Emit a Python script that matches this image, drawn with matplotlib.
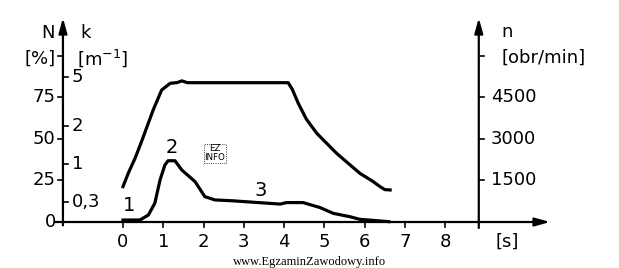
import matplotlib.pyplot as plt

# time axis [s]
x_ticks = [0, 1, 2, 3, 4, 5, 6, 7, 8]

# left axis: N [%] and k [m^-1] (k scale is non-linear, placed by N units)
n_pct_ticks = [0, 25, 50, 75, 100]
n_pct_labels = ['0', '25', '50', '75', '']
k_tick_pos = [12.0, 34.9, 57.8, 87.3]
k_tick_labels = ['0,3', '1', '2', '5']

# right axis: n [obr/min]
rpm_ticks = [1500, 3000, 4500, 6000]
rpm_labels = ['1500', '3000', '4500', '']

# upper curve (read in N units)
t_upper = [0, 0.13, 0.3, 0.46, 0.75, 0.96, 1.17, 1.35, 1.46, 1.6, 4.1,
           4.2, 4.35, 4.55, 4.81, 5.3, 5.88, 6.2, 6.38, 6.5, 6.63]
v_upper = [21.3, 29.3, 38.4, 48.4, 67.5, 79.5, 83.5, 84.0, 85.0, 83.9, 83.9,
           80.0, 71.5, 62.0, 53.4, 41.4, 29.3, 24.5, 21.3, 19.5, 19.3]

# lower curve (k)
t_lower = [0, 0.42, 0.63, 0.79, 0.92, 1.04, 1.12, 1.29, 1.46, 1.79, 2.03,
           2.28, 2.7, 3.9, 4.06, 4.47, 4.89, 5.22, 5.63, 5.88, 6.3, 6.6]
v_lower = [1.2, 1.2, 4.2, 11.3, 25.3, 34.3, 36.9, 36.9, 31.3, 24.3, 15.3,
           13.3, 12.8, 10.8, 11.7, 11.7, 8.7, 5.2, 3.2, 1.6, 0.8, 0.2]

plt.rcParams['font.family'] = ['DejaVu Sans']
fs = 13

fig = plt.figure(figsize=(6.19, 2.68), dpi=100)
ax = fig.add_axes([0, 0, 1, 1])
ax.set_xlim(-3.052, 12.31)
ax.set_ylim(-27.7, 133.7)
ax.axis('off')

left_x = -1.49
right_x = 8.83
rpm_scale = 60.0  # n = 60 * N
lw_axis = 1.6
tick_dx = 0.13   # ~5 px
tick_dy = 3.0    # ~5 px

arrow = dict(arrowstyle='-|>,head_length=0.9,head_width=0.25', color='black',
             lw=lw_axis, shrinkA=0, shrinkB=0)

# horizontal axis
ax.annotate('', xy=(10.6, 0), xytext=(-1.69, 0), arrowprops=arrow)
for t in x_ticks:
    ax.plot([t, t], [0, -tick_dy], color='black', lw=1.2)
    ax.text(t, -6.5, str(t), ha='center', va='top', fontsize=fs)
ax.text(9.53, -6.5, '[s]', ha='center', va='top', fontsize=fs)

# left vertical axis
ax.annotate('', xy=(left_x, 122.9), xytext=(left_x, -2), arrowprops=arrow)
for v, lab in zip(n_pct_ticks, n_pct_labels):
    ax.plot([left_x - tick_dx, left_x], [v, v], color='black', lw=1.2)
    ax.text(left_x - 0.18, v, lab, ha='right', va='center', fontsize=fs)
for v, lab in zip(k_tick_pos, k_tick_labels):
    ax.plot([left_x, left_x + tick_dx], [v, v], color='black', lw=1.2)
    ax.text(left_x + 0.22, v, lab, ha='left', va='center', fontsize=fs)
ax.text(-1.87, 113.7, 'N', ha='center', va='center', fontsize=fs)
ax.text(-2.07, 98.6, '[%]', ha='center', va='center', fontsize=fs)
ax.text(-0.92, 113.7, 'k', ha='center', va='center', fontsize=fs)
ax.text(-0.50, 98.6, '[m$^{-1}$]', ha='center', va='center', fontsize=fs)

# right vertical axis
ax.annotate('', xy=(right_x, 122.9), xytext=(right_x, -3.6), arrowprops=arrow)
for v, lab in zip(rpm_ticks, rpm_labels):
    y = v / rpm_scale
    ax.plot([right_x, right_x + tick_dx], [y, y], color='black', lw=1.2)
    ax.text(right_x + 0.3, y, lab, ha='left', va='center', fontsize=fs)
ax.text(9.4, 114.5, 'n', ha='left', va='center', fontsize=fs)
ax.text(9.4, 99.0, '[obr/min]', ha='left', va='center', fontsize=fs)

# curves
ax.plot(t_upper, v_upper, color='black', lw=2.3, solid_joinstyle='round')
ax.plot(t_lower, v_lower, color='black', lw=2.3, solid_joinstyle='round')

ax.text(0.15, 10.2, '1', ha='center', va='center', fontsize=fs + 1)
ax.text(1.2, 44.6, '2', ha='center', va='center', fontsize=fs + 1)
ax.text(3.42, 18.7, '3', ha='center', va='center', fontsize=fs + 1)

# watermark box
ax.text(2.28, 41.3, 'EZ\nINFO', ha='center', va='center', fontsize=6.3,
        linespacing=1.0,
        bbox=dict(boxstyle='square,pad=0.1', fc='white', ec='black',
                  lw=0.6, ls=':'))

fig.text(310 / 619, 1 - 262 / 268, 'www.EgzaminZawodowy.info', ha='center',
         va='center', fontsize=9, family='Liberation Serif')

fig.savefig('out.png', dpi=100)
